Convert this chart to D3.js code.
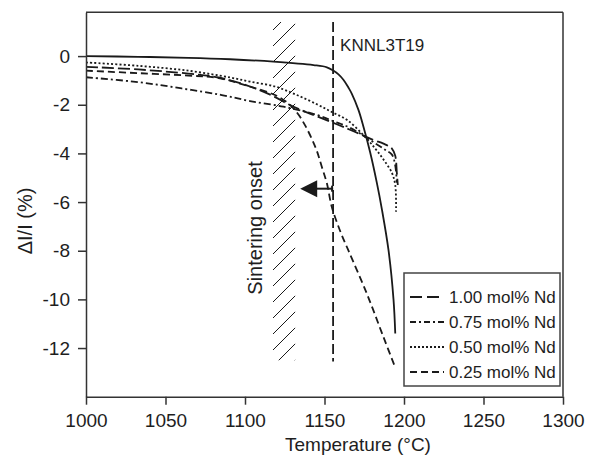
<!DOCTYPE html>
<html><head><meta charset="utf-8">
<script src="https://cdn.jsdelivr.net/npm/d3@7"></script>
<style>
body{margin:0;background:#fff;}
svg{display:block;}
text{font-family:"Liberation Sans", Arial, Helvetica, sans-serif; fill:#1e1e1e;}
</style>
</head><body>
<svg id="chart" width="611" height="458"></svg>
<script>
// ---- data ----
const xTicks = [1000, 1050, 1100, 1150, 1200, 1250, 1300];
const yTicks = [0, -2, -4, -6, -8, -10, -12];
const xTitle = "Temperature (°C)";
const yTitle = "ΔI/I (%)";
const seriesNames = ["1.00 mol% Nd", "0.75 mol% Nd", "0.50 mol% Nd", "0.25 mol% Nd"];

// unlabelled reference curve (solid)
const solidCurve = [[1000,0],[1032.9,-0.03],[1064.4,-0.07],[1090.6,-0.13],[1117.9,-0.23],[1143.1,-0.37],[1151.5,-0.46],[1155.7,-0.6],[1158.8,-0.75],[1162,-0.98],[1165.1,-1.3],[1167.2,-1.55],[1171.4,-2.22],[1174.5,-2.9],[1178.7,-3.95],[1182.9,-5.2],[1186.1,-6.3],[1190.3,-8.0],[1193.4,-10.0],[1194.5,-11.4]];
const nd100 = [[1000,-0.44],[1032.9,-0.55],[1064.4,-0.72],[1083.3,-0.88],[1103.2,-1.25],[1117.9,-1.65],[1127.3,-1.98],[1134.7,-2.2],[1157.7,-2.8],[1169.3,-3.12],[1180.8,-3.45],[1187.1,-3.6],[1192.4,-3.8],[1194.5,-4.1],[1195.5,-4.8],[1196.1,-5.3]];
const nd075 = [[1000,-0.87],[1032.9,-1.07],[1060.2,-1.33],[1085.4,-1.6],[1103.2,-1.85],[1124.2,-2.08],[1145.2,-2.42],[1155.7,-2.68],[1166.2,-2.95],[1178.7,-3.45],[1188.1,-3.85],[1192.4,-4.05],[1194.5,-4.5],[1195.5,-5.2]];
const nd050 = [[1000,-0.26],[1032.9,-0.4],[1064.4,-0.6],[1090.6,-0.88],[1103.2,-1.05],[1118.9,-1.25],[1132.6,-1.6],[1145.2,-1.98],[1154.6,-2.3],[1164.1,-2.62],[1174.5,-3.25],[1181.9,-3.8],[1187.1,-4.25],[1192.4,-4.8],[1194.5,-5.3],[1195,-6.4]];
const nd025 = [[1000,-0.6],[1032.9,-0.7],[1064.4,-0.8],[1083.3,-0.9],[1103.2,-1.26],[1118.9,-1.6],[1127.3,-1.95],[1133.6,-2.4],[1137.8,-2.85],[1142,-3.4],[1145.2,-3.9],[1148.3,-4.55],[1151.5,-5.23],[1154.6,-6.2],[1159.9,-7.2],[1165.1,-8.0],[1176.6,-9.76],[1187.1,-11.55],[1194.5,-12.8]];

const onsetBand = [1117.6, 1131.7];
const onsetBandLevels = [1.4, -12.5];
const onsetLabel = "Sintering onset";
const knnlTemp = 1155.4;
const knnlLevels = [1.4, -12.55];
const knnlLabel = "KNNL3T19";
const arrowFrom = 1155.4, arrowTo = 1134.7, arrowLevel = -5.45;

// ---- layout ----
const svg = d3.select("#chart");
const L = 86, R = 563, T = 12.3, B = 396.7;
const x = d3.scaleLinear().domain([1000, 1300]).range([L, R]);
const y = d3.scaleLinear().domain([-14, 1.8]).range([B, T]);
const ink = "#1a1a1a", axisCol = "#333";

// hatch band
const defs = svg.append("defs");
defs.append("clipPath").attr("id", "bandClip").append("rect")
  .attr("x", x(onsetBand[0])).attr("y", y(onsetBandLevels[0]))
  .attr("width", x(onsetBand[1]) - x(onsetBand[0]))
  .attr("height", y(onsetBandLevels[1]) - y(onsetBandLevels[0]));
const hx0 = x(onsetBand[0]), hx1 = x(onsetBand[1]), hw = hx1 - hx0;
const hg = svg.append("g").attr("clip-path", "url(#bandClip)");
for (let yy = y(onsetBandLevels[0]) + 8; yy < y(onsetBandLevels[1]) + hw; yy += 16) {
  hg.append("line").attr("x1", hx0).attr("y1", yy).attr("x2", hx1).attr("y2", yy - hw)
    .attr("stroke", ink).attr("stroke-width", 1);
}

// vertical KNNL line
svg.append("line").attr("x1", x(knnlTemp)).attr("x2", x(knnlTemp))
  .attr("y1", y(knnlLevels[0])).attr("y2", y(knnlLevels[1]))
  .attr("stroke", ink).attr("stroke-width", 1.8).attr("stroke-dasharray", "10,4");

// curves
const line = d3.line().x(d => x(d[0])).y(d => y(d[1])).curve(d3.curveCatmullRom.alpha(0.5));
const styles = [
  {data: nd100, dash: "12,4"},
  {data: nd075, dash: "7,3,2,3"},
  {data: nd050, dash: "2,2.2"},
  {data: nd025, dash: "7,4"}
];
svg.append("path").attr("d", line(solidCurve)).attr("fill", "none")
  .attr("stroke", ink).attr("stroke-width", 1.8);
styles.forEach(s => {
  svg.append("path").attr("d", line(s.data)).attr("fill", "none")
    .attr("stroke", ink).attr("stroke-width", 1.8).attr("stroke-dasharray", s.dash);
});

// arrow
const ay = y(arrowLevel);
svg.append("line").attr("x1", x(arrowFrom)).attr("x2", x(arrowTo) + 14).attr("y1", ay).attr("y2", ay)
  .attr("stroke", ink).attr("stroke-width", 2);
svg.append("line").attr("x1", x(arrowFrom) - 1).attr("x2", x(arrowFrom) - 1).attr("y1", ay - 3).attr("y2", ay + 3)
  .attr("stroke", ink).attr("stroke-width", 2);
svg.append("path")
  .attr("d", `M${x(arrowTo)},${ay} L${x(arrowTo) + 17},${ay - 8.5} L${x(arrowTo) + 17},${ay + 8.5} Z`)
  .attr("fill", ink);

// texts in plot
svg.append("text").attr("x", x(knnlTemp) + 7).attr("y", 51).attr("font-size", 17).text(knnlLabel);
svg.append("text").attr("transform", `translate(262,228) rotate(-90)`)
  .attr("text-anchor", "middle").attr("font-size", 20).text(onsetLabel);

// axes
const xAxis = d3.axisBottom(x).tickValues(xTicks).tickSize(8).tickSizeOuter(0).tickPadding(9).tickFormat(d => String(d));
const yAxis = d3.axisLeft(y).tickValues(yTicks).tickSize(8).tickSizeOuter(0).tickPadding(8).tickFormat(d => String(d));
const gx = svg.append("g").attr("transform", `translate(0,${B})`).call(xAxis);
const gy = svg.append("g").attr("transform", `translate(${L},0)`).call(yAxis);
[gx, gy].forEach(g => {
  g.selectAll("path,line").attr("stroke", axisCol).attr("stroke-width", 1.5);
  g.selectAll("text").attr("font-size", 19).attr("fill", "#1e1e1e")
    .style("font-family", '"Liberation Sans", Arial, sans-serif');
});
// frame top & right
svg.append("line").attr("x1", L).attr("x2", R).attr("y1", T).attr("y2", T).attr("stroke", axisCol).attr("stroke-width", 1.5);
svg.append("line").attr("x1", R).attr("x2", R).attr("y1", T).attr("y2", B).attr("stroke", axisCol).attr("stroke-width", 1.5);

// axis titles
svg.append("text").attr("x", 358).attr("y", 451).attr("text-anchor", "middle").attr("font-size", 19).text(xTitle);
svg.append("text").attr("transform", "translate(32,221) rotate(-90)").attr("text-anchor", "middle")
  .attr("font-size", 20).text(yTitle);

// legend
const lg = svg.append("g");
lg.append("rect").attr("x", 404).attr("y", 273).attr("width", 156).attr("height", 113)
  .attr("fill", "#fff").attr("stroke", "#444").attr("stroke-width", 1.5);
const legendDash = ["12,5", "6,3,2,3", "2,2", "7,4"];
seriesNames.forEach((name, i) => {
  const cy = 297 + i * 25;
  lg.append("line").attr("x1", 410).attr("x2", 444).attr("y1", cy).attr("y2", cy)
    .attr("stroke", ink).attr("stroke-width", 1.8).attr("stroke-dasharray", legendDash[i]);
  lg.append("text").attr("x", 449).attr("y", cy).attr("dy", "0.35em").attr("font-size", 17).text(name);
});
</script>
</body></html>
